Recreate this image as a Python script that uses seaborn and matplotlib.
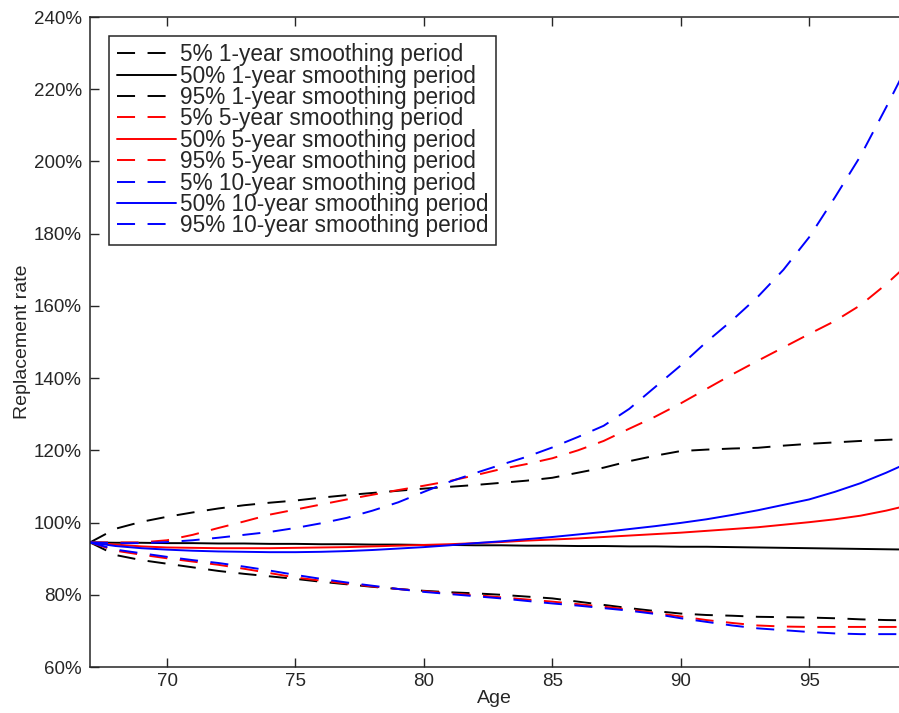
import numpy as np
import matplotlib
matplotlib.use("Agg")
import matplotlib.pyplot as plt
from matplotlib.ticker import PercentFormatter
import seaborn as sns

ages = list(range(67, 100))

# replacement rate in % (ages 67..99)
p5_1y = [94.5, 91.0, 89.6, 88.6, 87.6, 86.6, 85.8, 85.1, 84.4, 83.6, 82.9, 82.2, 81.6, 81.1, 80.7, 80.4, 80.0,
         79.5, 79.0, 78.1, 77.2, 76.3, 75.5, 74.8, 74.4, 74.2, 73.9, 73.8, 73.7, 73.5, 73.2, 73.0, 72.9]
p50_1y = [94.5, 94.4, 94.4, 94.3, 94.3, 94.2, 94.2, 94.1, 94.1, 94.0, 94.0, 93.9, 93.9, 93.8, 93.8, 93.7, 93.7,
          93.6, 93.6, 93.5, 93.5, 93.4, 93.4, 93.3, 93.3, 93.2, 93.1, 93.0, 92.9, 92.8, 92.7, 92.6, 92.5]
p95_1y = [94.5, 98.3, 100.2, 101.6, 102.8, 103.9, 104.8, 105.5, 106.1, 106.9, 107.6, 108.2, 108.8, 109.4, 109.9,
          110.4, 111.0, 111.6, 112.4, 113.8, 115.2, 117.0, 118.5, 119.8, 120.2, 120.5, 120.7, 121.3, 121.8, 122.2,
          122.6, 122.9, 123.2]

p5_5y = [94.5, 92.2, 91.1, 90.1, 89.2, 88.3, 87.2, 86.0, 84.8, 83.9, 83.1, 82.3, 81.6, 81.0, 80.4, 79.9, 79.3,
         78.7, 78.1, 77.4, 76.7, 75.9, 75.0, 74.0, 73.0, 72.2, 71.5, 71.2, 71.1, 71.1, 71.1, 71.1, 71.1]
p50_5y = [94.5, 93.9, 93.4, 93.1, 93.0, 92.9, 92.9, 92.9, 93.0, 93.1, 93.2, 93.4, 93.6, 93.8, 94.0, 94.3, 94.6,
          95.0, 95.3, 95.6, 96.0, 96.4, 96.8, 97.2, 97.7, 98.2, 98.7, 99.4, 100.1, 100.9, 101.9, 103.3, 105.0]
p95_5y = [94.5, 94.5, 94.5, 95.1, 96.6, 98.5, 100.3, 102.2, 103.6, 105.0, 106.4, 107.7, 109.0, 110.2, 111.5, 113.1,
          114.8, 116.2, 117.8, 120.0, 122.6, 126.0, 129.3, 133.0, 137.0, 141.0, 144.8, 148.5, 152.2, 155.8, 160.2,
          166.0, 172.5]

p5_10y = [94.5, 92.5, 91.5, 90.5, 89.6, 88.8, 87.8, 86.7, 85.5, 84.4, 83.4, 82.5, 81.6, 80.8, 80.2, 79.6, 79.0,
          78.3, 77.6, 77.0, 76.3, 75.6, 74.7, 73.5, 72.5, 71.5, 70.7, 70.2, 69.7, 69.3, 69.1, 69.1, 69.1]
p50_10y = [94.5, 93.5, 92.9, 92.5, 92.2, 92.0, 91.9, 91.8, 91.8, 91.9, 92.1, 92.4, 92.8, 93.2, 93.7, 94.3, 94.8,
           95.4, 96.0, 96.7, 97.4, 98.2, 99.0, 99.9, 100.9, 102.1, 103.4, 104.9, 106.4, 108.5, 110.9, 113.8, 117.0]
p95_10y = [94.5, 94.3, 94.3, 94.6, 95.1, 95.8, 96.6, 97.4, 98.5, 99.8, 101.3, 103.3, 105.6, 108.5, 111.3, 113.7,
           116.0, 118.2, 120.8, 123.7, 126.8, 131.5, 137.5, 143.5, 150.0, 156.0, 162.5, 170.0, 179.0, 190.0, 201.5,
           215.0, 229.0]

series = [
    (p5_1y, "5% 1-year smoothing period", "black", "--"),
    (p50_1y, "50% 1-year smoothing period", "black", "-"),
    (p95_1y, "95% 1-year smoothing period", "black", "--"),
    (p5_5y, "5% 5-year smoothing period", "red", "--"),
    (p50_5y, "50% 5-year smoothing period", "red", "-"),
    (p95_5y, "95% 5-year smoothing period", "red", "--"),
    (p5_10y, "5% 10-year smoothing period", "blue", "--"),
    (p50_10y, "50% 10-year smoothing period", "blue", "-"),
    (p95_10y, "95% 10-year smoothing period", "blue", "--"),
]

sns.set_style("ticks")
plt.rcParams["font.family"] = ["Liberation Sans", "DejaVu Sans"]

fig = plt.figure(figsize=(8.99, 7.13), dpi=100)
ax = fig.add_axes([90 / 899, 46 / 713, 1 - 90 / 899, 650 / 713])

lw = 1.4
for vals, lab, col, ls in series:
    sns.lineplot(x=ages, y=vals, ax=ax, color=col, lw=lw, label=lab)
    if ls == "--":
        ax.lines[-1].set_dashes((13.0 / lw, 9.0 / lw))

ax.set_xlim(67, 98.5)
ax.set_ylim(60, 240)
ax.set_xticks([70, 75, 80, 85, 90, 95])
ax.set_yticks(np.arange(60, 241, 20))
ax.yaxis.set_major_formatter(PercentFormatter(xmax=100, decimals=0))

ax.tick_params(direction="in", length=6.5, width=1, colors="#262626", labelsize=13.5,
               top=True, right=False, pad=4)
ax.tick_params(axis="y", pad=6)
for s in ["left", "bottom", "top"]:
    ax.spines[s].set_color("#262626")
    ax.spines[s].set_linewidth(1.1)
ax.spines["right"].set_visible(False)

ax.set_xlabel("Age", fontsize=14, color="#262626", labelpad=0)
ax.set_ylabel("Replacement rate", fontsize=14, color="#262626", labelpad=2)

leg = ax.legend(loc="upper left", bbox_to_anchor=(0.024, 0.971), borderaxespad=0, fontsize=16.3,
                frameon=True, fancybox=False, framealpha=1, edgecolor="#262626",
                labelspacing=-0.07, handlelength=2.6, handletextpad=0.2, borderpad=0.32)
leg.get_frame().set_linewidth(1.1)

fig.savefig("out.png", dpi=100)
